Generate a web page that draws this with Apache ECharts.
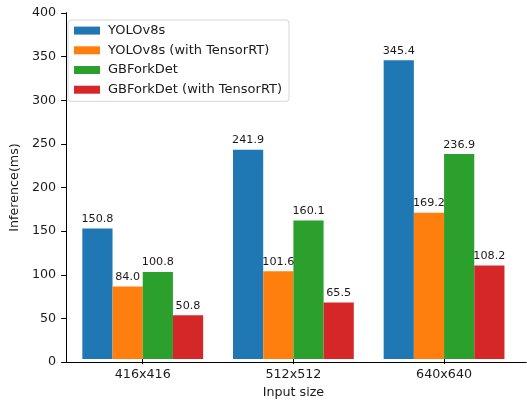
<!DOCTYPE html>
<html>
<head>
<meta charset="utf-8">
<script src="https://cdn.jsdelivr.net/npm/echarts@6/dist/echarts.min.js"></script>
<style>
  html, body { margin: 0; padding: 0; background: #fff; }
  #main { width: 527px; height: 404px; }
</style>
</head>
<body>
<div id="main"></div>
<script>
// data
var categories = ['416x416', '512x512', '640x640'];
var seriesNames = ['YOLOv8s', 'YOLOv8s (with TensorRT)', 'GBForkDet', 'GBForkDet (with TensorRT)'];
var yolo = [150.8, 241.9, 345.4];
var yoloTrt = [84.0, 101.6, 169.2];
var gbfork = [100.8, 160.1, 236.9];
var gbforkTrt = [50.8, 65.5, 108.2];
var yTicks = [0, 50, 100, 150, 200, 250, 300, 350, 400];

var colors = ['#1f77b4', '#ff7f0e', '#2ca02c', '#d62728'];
var font = 'DejaVu Sans';
var ink = '#1a1a1a';

var chart = echarts.init(document.getElementById('main'));

function barSeries(i, data) {
  return {
    name: seriesNames[i],
    type: 'bar',
    xAxisIndex: 2,
    yAxisIndex: 2,
    data: data,
    barWidth: 30.2,
    barGap: '0%',
    itemStyle: { color: colors[i] },
    label: {
      show: true,
      position: 'top',
      distance: 4,
      fontFamily: font,
      fontSize: 11.2,
      color: ink,
      formatter: function (p) { return p.value.toFixed(1); }
    }
  };
}

var option = {
  backgroundColor: '#fff',
  animation: false,
  textStyle: { fontFamily: font },
  // grid 0 = frame (spines), grid 1 = bars placed like matplotlib
  grid: [
    { left: 61, right: 1, top: 13, bottom: 42 },
    { left: 67.4, right: 7.6, top: 13, bottom: 42 }
  ],
  legend: {
    orient: 'vertical',
    left: 68,
    top: 20,
    data: seriesNames,
    itemWidth: 26,
    itemHeight: 8,
    itemGap: 4.5,
    padding: [3, 7, 4, 6],
    backgroundColor: '#fff',
    borderColor: '#d5d5d5',
    borderWidth: 1,
    borderRadius: 3,
    icon: 'rect',
    textStyle: { fontFamily: font, fontSize: 13, lineHeight: 15.2, color: ink, padding: [0, 0, 0, 3] }
  },
  xAxis: [
    {
      gridIndex: 0, type: 'value', min: 0, max: 1, position: 'bottom',
      axisLine: { show: true, lineStyle: { color: '#000', width: 1 } },
      axisTick: { show: false }, axisLabel: { show: false }, splitLine: { show: false }
    },
    {
      gridIndex: 0, type: 'value', min: 0, max: 1, position: 'top',
      axisLine: { show: true, lineStyle: { color: '#000', width: 1 } },
      axisTick: { show: false }, axisLabel: { show: false }, splitLine: { show: false }
    },
    {
      gridIndex: 1, type: 'category', data: categories, position: 'bottom',
      axisLine: { show: false },
      axisTick: { show: true, alignWithLabel: true, length: 5, lineStyle: { color: '#000' } },
      axisLabel: { margin: 9, fontFamily: font, fontSize: 12.7, color: ink },
      name: 'Input size', nameLocation: 'middle', nameGap: 26,
      nameTextStyle: { fontFamily: font, fontSize: 12.7, color: ink }
    }
  ],
  yAxis: [
    {
      gridIndex: 0, type: 'value', min: 0, max: 400, interval: 50, position: 'left',
      axisLine: { show: true, lineStyle: { color: '#000', width: 1 } },
      axisTick: { show: true, length: 5, lineStyle: { color: '#000' } },
      axisLabel: { margin: 10, fontFamily: font, fontSize: 12.7, color: ink,
        customValues: yTicks },
      splitLine: { show: false },
      name: 'Inference(ms)', nameLocation: 'middle', nameRotate: 90, nameGap: 39,
      nameTextStyle: { fontFamily: font, fontSize: 12.7, color: ink }
    },
    {
      gridIndex: 0, type: 'value', min: 0, max: 400, position: 'right',
      axisLine: { show: true, lineStyle: { color: '#000', width: 1 } },
      axisTick: { show: false }, axisLabel: { show: false }, splitLine: { show: false }
    },
    {
      gridIndex: 1, type: 'value', min: 0, max: 400, show: false
    }
  ],
  series: [
    barSeries(0, yolo),
    barSeries(1, yoloTrt),
    barSeries(2, gbfork),
    barSeries(3, gbforkTrt)
  ]
};

chart.setOption(option);
</script>
</body>
</html>
